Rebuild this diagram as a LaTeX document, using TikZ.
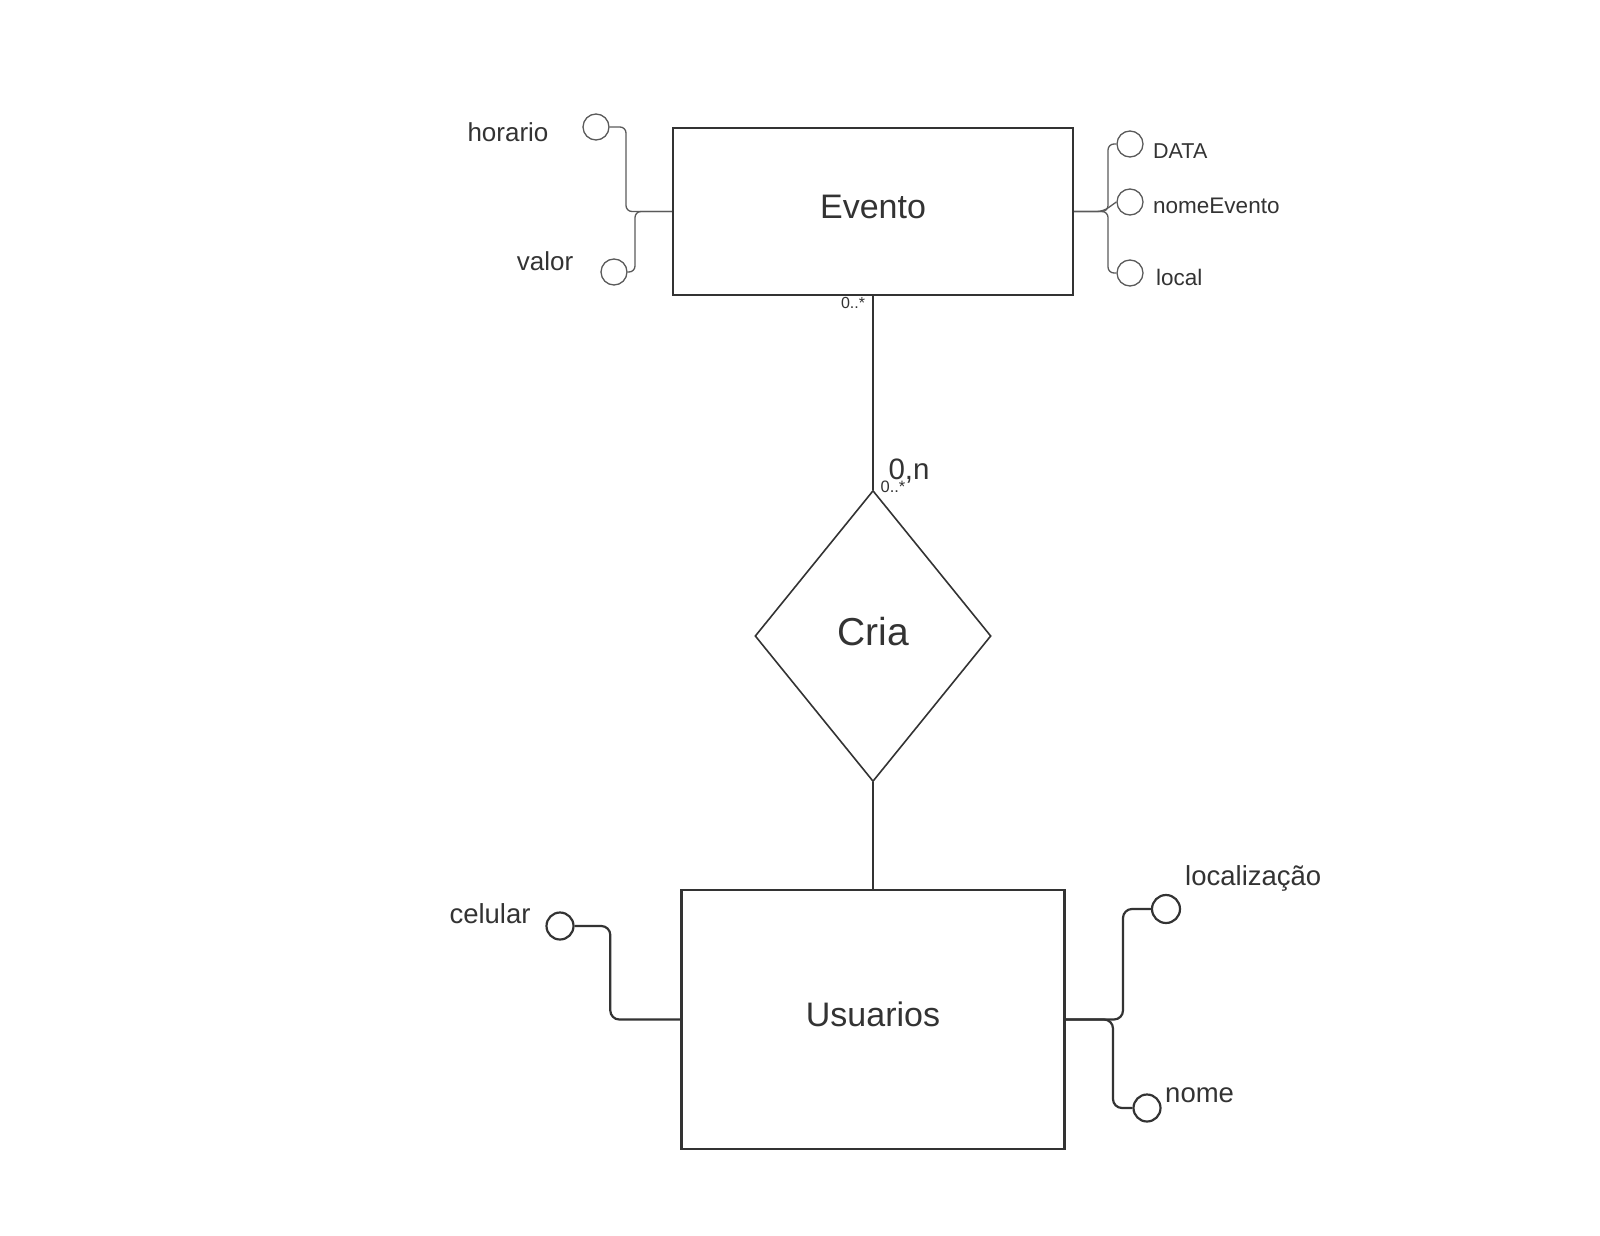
\documentclass[tikz,border=0pt]{standalone}
\usepackage{fontspec}
\setmainfont{Liberation Sans}
\usepackage{tikz}
\usetikzlibrary{shapes.geometric,calc}
\definecolor{erdark}{HTML}{333333}
\definecolor{ergrey}{HTML}{5A5A5A}
\newcommand{\erfont}[1]{\fontsize{#1}{#1}\selectfont}
\tikzset{
 er entity/.style={draw=erdark,line width=2.4pt,rectangle,inner sep=0pt,
   text depth=10pt,text=erdark,font=\erfont{34}},
 er rel/.style={draw=erdark,line width=1.6pt,diamond,inner sep=0pt,text depth=10pt,
   minimum width=236pt,minimum height=291pt,text=erdark,font=\erfont{39}},
 er attr/.style={draw=erdark,line width=2.2pt,circle,inner sep=0pt,minimum size=27pt},
 er attr thin/.style={er attr,draw=ergrey,line width=1.3pt,minimum size=26pt},
 er link/.style={draw=erdark,line width=2.4pt},
 er link thin/.style={draw=ergrey,line width=1.3pt,rounded corners=6pt},
 er link round/.style={draw=erdark,line width=2.2pt,rounded corners=9pt},
 er label/.style={inner sep=0pt,text=erdark}
}
\begin{document}
\begin{tikzpicture}[x=1pt,y=-1pt]
\useasboundingbox (0,0) rectangle (1600,1236);
\node[er entity,minimum width=400pt,minimum height=167pt] (evento) at (873,211.5) {Evento};
\node[er entity,minimum width=383pt,minimum height=259pt] (usuarios) at (873,1019.5) {Usuarios};
\node[er rel] (cria) at (873,636) {Cria};
\draw[er link] (evento.south)--(cria.north);
\draw[er link] (cria.south)--(usuarios.north);
\node[er label,font=\erfont{16}] (cardev) at (853,303) {0..*};
\node[er label,font=\erfont{29.5}] (cardrel) at (909,471) {0,n};
\node[er label,font=\erfont{16.5}] (cardcria) at (893,487) {0..*};
% atributos de Evento
\node[er attr thin] (horario) at (596,127) {};
\node[er attr thin] (valor) at (614,272) {};
\node[er attr thin] (data) at (1130,144) {};
\node[er attr thin] (nomeev) at (1130,202) {};
\node[er attr thin] (local) at (1130,273) {};
\node[er label,font=\erfont{26}] (horariot) at (508,132) {horario};
\node[er label,font=\erfont{26}] (valort) at (545,261) {valor};
\node[er label,font=\erfont{21.5},anchor=west] (datat) at (1153,151) {DATA};
\node[er label,font=\erfont{22.5},anchor=west] (nomeevt) at (1153,206) {nomeEvento};
\node[er label,font=\erfont{22.5},anchor=west] (localt) at (1156,277) {local};
\draw[er link thin] (horario.east) -| (626,211.5) -- (evento.west);
\draw[er link thin] (valor.east) -| (635,211.5) -- (evento.west);
\draw[er link thin] (evento.east) -| (1108,144) -- (data.west);
\draw[er link thin] (evento.east) -- (1103,211.5) -- (nomeev.west);
\draw[er link thin] (evento.east) -| (1108,273) -- (local.west);
% atributos de Usuarios
\node[er attr] (celular) at (560,926) {};
\node[er attr,minimum size=28pt] (localiz) at (1166,909) {};
\node[er attr] (nome) at (1147,1108) {};
\node[er label,font=\erfont{27.5}] (celulart) at (490,914) {celular};
\node[er label,font=\erfont{27.5},anchor=west] (localizt) at (1185,878) {localização};
\node[er label,font=\erfont{27.5},anchor=west] (nomet) at (1165,1095) {nome};
\draw[er link round] (celular.east) -| ($(usuarios.west)+(-70,0)$) -- (usuarios.west);
\draw[er link round] (usuarios.east) -| (1123,909) -- (localiz.west);
\draw[er link round] (usuarios.east) -| (1113,1108) -- (nome.west);
\end{tikzpicture}
\end{document}
